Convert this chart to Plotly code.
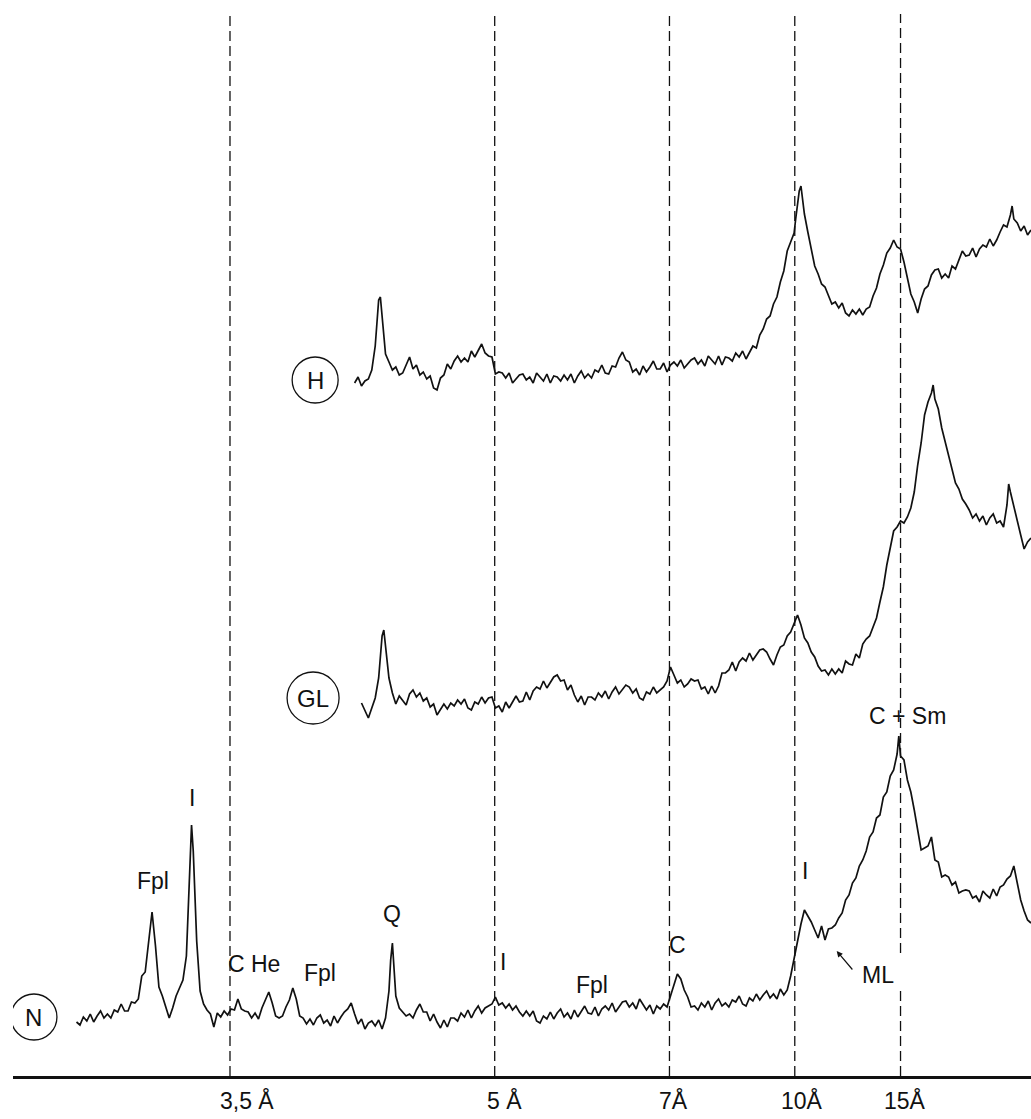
import plotly.graph_objects as go

# ---------------- data (2-theta, Cu K-alpha; intensity in arbitrary units) -------------
N_2theta = [
    29.9, 29.8, 29.7, 29.6, 29.5, 29.4, 29.3, 29.2, 29.1, 29.0,
    28.9, 28.8, 28.7, 28.6, 28.5, 28.4, 28.3, 28.2, 28.1, 28.0,
    27.9, 27.8, 27.7, 27.6, 27.5, 27.4, 27.3, 27.2, 27.1, 27.0,
    26.9, 26.8, 26.7, 26.65, 26.6, 26.55, 26.5, 26.45, 26.4, 26.3, 26.2, 26.1, 26.0,
    25.9, 25.8, 25.7, 25.6, 25.5, 25.4, 25.3, 25.2, 25.1, 25.0,
    24.9, 24.8, 24.7, 24.6, 24.5, 24.4, 24.3, 24.2, 24.1, 24.0,
    23.9, 23.8, 23.7, 23.6, 23.5, 23.4, 23.3, 23.2, 23.1, 23.0,
    22.9, 22.8, 22.7, 22.6, 22.5, 22.4, 22.3, 22.2, 22.1, 22.0,
    21.9, 21.8, 21.7, 21.6, 21.5, 21.4, 21.3, 21.2, 21.1, 21.0,
    20.9, 20.8, 20.75, 20.7, 20.65, 20.6, 20.5, 20.4, 20.3, 20.2, 20.1, 20.0,
    19.9, 19.8, 19.7, 19.6, 19.5, 19.4, 19.3, 19.2, 19.1, 19.0,
    18.9, 18.8, 18.7, 18.6, 18.5, 18.4, 18.3, 18.2, 18.1, 18.0,
    17.9, 17.8, 17.7, 17.6, 17.5, 17.4, 17.3, 17.2, 17.1, 17.0,
    16.9, 16.8, 16.7, 16.6, 16.5, 16.4, 16.3, 16.2, 16.1, 16.0,
    15.9, 15.8, 15.7, 15.6, 15.5, 15.4, 15.3, 15.2, 15.1, 15.0,
    14.9, 14.8, 14.7, 14.6, 14.5, 14.4, 14.3, 14.2, 14.1, 14.0,
    13.9, 13.8, 13.7, 13.6, 13.5, 13.4, 13.3, 13.2, 13.1, 13.0,
    12.9, 12.8, 12.7, 12.6, 12.5, 12.45, 12.4, 12.3, 12.2, 12.1, 12.0,
    11.9, 11.8, 11.7, 11.6, 11.5, 11.4, 11.3, 11.2, 11.1, 11.0,
    10.9, 10.8, 10.7, 10.6, 10.5, 10.4, 10.3, 10.2, 10.1, 10.0,
    9.9, 9.8, 9.7, 9.6, 9.5, 9.4, 9.3, 9.2, 9.1, 9.0,
    8.9, 8.8, 8.7, 8.6, 8.5, 8.4, 8.3, 8.2, 8.1, 8.0,
    7.9, 7.8, 7.7, 7.6, 7.5, 7.4, 7.3, 7.2, 7.1, 7.0,
    6.9, 6.8, 6.7, 6.6, 6.5, 6.4, 6.3, 6.2, 6.1, 6.0,
    5.95, 5.9, 5.8, 5.7, 5.6, 5.5, 5.4, 5.3, 5.2, 5.1, 5.0,
    4.9, 4.8, 4.7, 4.6, 4.5, 4.4, 4.3, 4.2, 4.1, 4.0,
    3.9, 3.8, 3.7, 3.6, 3.5, 3.4, 3.3, 3.2, 3.1, 3.0,
    2.9, 2.8, 2.7, 2.6, 2.5, 2.4, 2.3, 2.2, 2.1,
]
N_counts = [
    54, 51, 59, 55, 62, 54, 60, 65, 58, 62,
    58, 66, 64, 72, 65, 65, 74, 73, 77, 100,
    104, 135, 164, 130, 89, 80, 68, 58, 68, 80,
    88, 96, 120, 165, 205, 251, 225, 185, 135, 85, 72, 66, 62,
    49, 63, 59, 65, 61, 67, 66, 77, 67, 65,
    64, 58, 63, 57, 68, 77, 84, 73, 60, 58,
    60, 69, 76, 88, 77, 60, 58, 52, 57, 51,
    58, 61, 53, 56, 50, 60, 53, 59, 64, 67,
    73, 62, 52, 57, 47, 53, 55, 50, 56, 47,
    58, 85, 116, 133, 104, 80, 68, 64, 60, 62, 58, 66,
    72, 64, 64, 55, 62, 54, 48, 56, 49, 58,
    58, 55, 63, 59, 66, 58, 65, 70, 63, 68,
    70, 72, 79, 71, 73, 68, 72, 66, 70, 64,
    60, 65, 60, 65, 55, 53, 60, 57, 64, 57,
    63, 67, 59, 63, 57, 66, 59, 65, 70, 63,
    62, 69, 60, 67, 70, 66, 73, 64, 69, 74,
    75, 69, 73, 67, 77, 71, 66, 71, 62, 70,
    67, 72, 69, 80, 92, 98, 102, 97, 86, 79, 69,
    70, 66, 73, 69, 75, 66, 73, 77, 70, 73,
    69, 76, 74, 80, 72, 70, 78, 75, 82, 76,
    81, 85, 78, 82, 77, 87, 81, 86, 100, 118,
    135, 152, 166, 160, 154, 146, 138, 150, 136, 147,
    148, 151, 158, 163, 176, 181, 193, 198, 210, 216,
    225, 239, 244, 258, 261, 279, 284, 300, 306, 322,
    340, 320, 316, 296, 284, 266, 247, 226, 228, 230, 239,
    216, 214, 199, 201, 199, 191, 194, 183, 185, 186,
    185, 178, 180, 174, 185, 181, 178, 187, 180, 189,
    191, 197, 200, 210, 193, 176, 165, 156, 153,
]

GL_2theta = [
    21.6, 21.5, 21.4, 21.3, 21.2, 21.1, 21.05, 21.0, 20.95, 20.9,
    20.8, 20.7, 20.6, 20.5, 20.4, 20.3, 20.2, 20.1, 20.0,
    19.9, 19.8, 19.7, 19.6, 19.5, 19.4, 19.3, 19.2, 19.1, 19.0,
    18.9, 18.8, 18.7, 18.6, 18.5, 18.4, 18.3, 18.2, 18.1, 18.0,
    17.9, 17.8, 17.7, 17.6, 17.5, 17.4, 17.3, 17.2, 17.1, 17.0,
    16.9, 16.8, 16.7, 16.6, 16.5, 16.4, 16.3, 16.2, 16.1, 16.0,
    15.9, 15.8, 15.7, 15.6, 15.5, 15.4, 15.3, 15.2, 15.1, 15.0,
    14.9, 14.8, 14.7, 14.6, 14.5, 14.4, 14.3, 14.2, 14.1, 14.0,
    13.9, 13.8, 13.7, 13.6, 13.5, 13.4, 13.3, 13.2, 13.1, 13.0,
    12.9, 12.8, 12.7, 12.6, 12.5, 12.4, 12.3, 12.2, 12.1, 12.0,
    11.9, 11.8, 11.7, 11.6, 11.5, 11.4, 11.3, 11.2, 11.1, 11.0,
    10.9, 10.8, 10.7, 10.6, 10.5, 10.4, 10.3, 10.2, 10.1, 10.0,
    9.9, 9.8, 9.7, 9.6, 9.5, 9.4, 9.3, 9.2, 9.1, 9.0,
    8.95, 8.9, 8.8, 8.7, 8.6, 8.5, 8.4, 8.3, 8.2, 8.1, 8.0,
    7.9, 7.8, 7.7, 7.6, 7.5, 7.4, 7.3, 7.2, 7.1, 7.0,
    6.9, 6.8, 6.7, 6.6, 6.5, 6.4, 6.3, 6.2, 6.1, 6.0,
    5.9, 5.8, 5.7, 5.6, 5.5, 5.4, 5.3, 5.2, 5.1, 5.0,
    4.95, 4.9, 4.8, 4.7, 4.6, 4.5, 4.4, 4.3, 4.2, 4.1, 4.0,
    3.9, 3.8, 3.7, 3.6, 3.5, 3.4, 3.3, 3.2, 3.1, 3.0,
    2.9, 2.8, 2.75, 2.7, 2.6, 2.5, 2.4, 2.3, 2.2, 2.1,
]
GL_counts = [
    373, 366, 358, 368, 378, 398, 418, 440, 446, 428,
    398, 383, 372, 380, 376, 371, 382, 386, 379,
    383, 375, 378, 369, 372, 361, 366, 372, 367, 373,
    370, 376, 372, 377, 368, 366, 374, 372, 379, 373,
    378, 379, 368, 370, 364, 374, 368, 374, 380, 374,
    375, 384, 376, 385, 389, 387, 395, 388, 393, 399,
    401, 395, 396, 386, 391, 381, 374, 380, 371, 379,
    379, 376, 383, 379, 385, 377, 384, 389, 382, 387,
    391, 389, 383, 387, 378, 376, 384, 382, 389, 383,
    386, 389, 395, 409, 401, 393, 396, 389, 392, 397,
    395, 396, 387, 389, 382, 390, 383, 390, 403, 403,
    406, 414, 405, 414, 418, 415, 423, 416, 421, 426,
    427, 424, 417, 411, 421, 429, 431, 440, 444, 453,
    457, 461, 451, 438, 433, 424, 419, 410, 405, 406, 401,
    407, 402, 407, 403, 415, 412, 411, 422, 418, 432,
    437, 440, 450, 458, 474, 489, 511, 528, 545, 549,
    555, 553, 559, 568, 584, 611, 633, 661, 674, 683,
    691, 677, 667, 648, 634, 619, 608, 593, 587, 577, 572,
    566, 558, 562, 555, 560, 551, 558, 562, 553, 555,
    549, 571, 592, 584, 569, 553, 541, 527, 534, 538,
]

H_2theta = [
    21.8, 21.7, 21.6, 21.5, 21.4, 21.3, 21.2, 21.15, 21.1, 21.05,
    21.0, 20.95, 20.9, 20.8, 20.7, 20.6, 20.5, 20.4, 20.3, 20.2, 20.1, 20.0,
    19.9, 19.8, 19.7, 19.6, 19.5, 19.4, 19.3, 19.2, 19.1, 19.0,
    18.9, 18.8, 18.7, 18.6, 18.5, 18.4, 18.3, 18.2, 18.1, 18.0,
    17.9, 17.8, 17.7, 17.6, 17.5, 17.4, 17.3, 17.2, 17.1, 17.0,
    16.9, 16.8, 16.7, 16.6, 16.5, 16.4, 16.3, 16.2, 16.1, 16.0,
    15.9, 15.8, 15.7, 15.6, 15.5, 15.4, 15.3, 15.2, 15.1, 15.0,
    14.9, 14.8, 14.7, 14.6, 14.5, 14.4, 14.3, 14.2, 14.1, 14.0,
    13.9, 13.8, 13.7, 13.6, 13.5, 13.4, 13.3, 13.2, 13.1, 13.0,
    12.9, 12.8, 12.7, 12.6, 12.5, 12.4, 12.3, 12.2, 12.1, 12.0,
    11.9, 11.8, 11.7, 11.6, 11.5, 11.4, 11.3, 11.2, 11.1, 11.0,
    10.9, 10.8, 10.7, 10.6, 10.5, 10.4, 10.3, 10.2, 10.1, 10.0,
    9.9, 9.8, 9.7, 9.6, 9.5, 9.4, 9.3, 9.2, 9.1, 9.0,
    8.95, 8.9, 8.85, 8.8, 8.75, 8.7, 8.6, 8.5, 8.4, 8.3, 8.2, 8.1, 8.0,
    7.9, 7.8, 7.7, 7.6, 7.5, 7.4, 7.3, 7.2, 7.1, 7.0,
    6.9, 6.8, 6.7, 6.6, 6.5, 6.4, 6.3, 6.2, 6.1, 6.0,
    5.9, 5.8, 5.7, 5.6, 5.5, 5.4, 5.3, 5.2, 5.1, 5.0,
    4.9, 4.8, 4.7, 4.6, 4.5, 4.4, 4.3, 4.2, 4.1, 4.0,
    3.9, 3.8, 3.7, 3.6, 3.5, 3.4, 3.3, 3.2, 3.1, 3.0,
    2.9, 2.8, 2.7, 2.65, 2.6, 2.5, 2.4, 2.3, 2.2, 2.1,
]
H_counts = [
    693, 699, 690, 695, 697, 706, 730, 756, 776, 779,
    760, 738, 722, 714, 706, 709, 701, 703, 711, 719, 707, 711,
    701, 704, 697, 700, 688, 686, 698, 701, 712, 707,
    715, 720, 714, 718, 714, 725, 719, 726, 732, 723,
    720, 719, 702, 704, 703, 698, 703, 693, 697, 701,
    702, 696, 699, 693, 703, 699, 695, 702, 693, 700,
    699, 695, 701, 696, 702, 693, 700, 705, 698, 702,
    698, 706, 704, 711, 703, 702, 710, 709, 718, 724,
    716, 714, 704, 707, 701, 710, 704, 709, 715, 707,
    707, 713, 704, 711, 714, 710, 716, 708, 712, 716,
    718, 712, 716, 710, 720, 716, 712, 720, 711, 719,
    718, 715, 723, 719, 725, 717, 724, 730, 728, 741,
    747, 757, 760, 772, 779, 794, 805, 825, 834, 843,
    858, 874, 885, 890, 878, 862, 844, 828, 810, 802, 792, 789, 780,
    772, 774, 768, 773, 763, 760, 766, 762, 767, 761,
    767, 769, 780, 788, 802, 811, 823, 828, 836, 829,
    827, 814, 799, 782, 774, 763, 777, 787, 790, 801,
    806, 807, 798, 802, 798, 810, 807, 816, 825, 820,
    821, 828, 819, 827, 831, 829, 837, 830, 836, 844,
    851, 849, 861, 870, 857, 853, 845, 850, 841, 846,
]

# reference d-spacing lines (position in 2-theta) and their labels
ref_lines_2theta = [25.43, 17.72, 12.63, 8.98, 5.90]
ref_labels = ["3,5 Å", "5 Å", "7Å", "10Å", "15Å"]
ref_label_shift = [17, 10, 4, 7, 4]

# sample names (circled)
samples = ["N", "GL", "H"]
sample_pos = [(31.14, 59), (23.01, 378), (22.95, 696)]
sample_radius = [23, 26, 23]

# peak labels: (text, 2theta, height)
peak_labels = [
    ("Fpl", 27.67, 195), ("I", 26.54, 278), ("C He", 24.73, 112),
    ("Fpl", 22.82, 103), ("Q", 20.71, 162), ("I", 17.48, 114),
    ("Fpl", 14.89, 91), ("C", 12.41, 131), ("I", 8.68, 205),
    ("ML", 6.56, 101), ("C + Sm", 5.69, 360),
]

FONT = "Liberation Sans, Arial, Helvetica, sans-serif"
X_RANGE = [31.75, 2.10]
Y_RANGE = [0, 1076]

fig = go.Figure()
for xs, ys in [(N_2theta, N_counts), (GL_2theta, GL_counts), (H_2theta, H_counts)]:
    fig.add_trace(go.Scatter(x=xs, y=ys, mode="lines",
                             line=dict(color="#111111", width=1.7),
                             showlegend=False, hoverinfo="skip"))

shapes = []
for i, xv in enumerate(ref_lines_2theta):
    if i == 4:
        segs = [(0, 88), (123, 1062)]
    else:
        segs = [(0, 1062)]
    for y0, y1 in segs:
        shapes.append(dict(type="line", xref="x", yref="y", x0=xv, x1=xv, y0=y0, y1=y1,
                           line=dict(color="#111111", width=1.3, dash="10px,5px")))

for (xv, yv), r in zip(sample_pos, sample_radius):
    shapes.append(dict(type="circle", xref="x", yref="y", xsizemode="pixel", ysizemode="pixel",
                       xanchor=xv, yanchor=yv, x0=-r, x1=r, y0=-r, y1=r,
                       line=dict(color="#111111", width=1.3)))

annotations = []
for name, (xv, yv) in zip(samples, sample_pos):
    annotations.append(dict(x=xv, y=yv, xref="x", yref="y", text=name, showarrow=False,
                            font=dict(family=FONT, size=24, color="#111111"),
                            xanchor="center", yanchor="middle"))
for txt, xv, yv in peak_labels:
    annotations.append(dict(x=xv, y=yv, xref="x", yref="y", text=txt, showarrow=False,
                            font=dict(family=FONT, size=23, color="#111111"),
                            xanchor="center", yanchor="middle"))
for xv, lab, sh in zip(ref_lines_2theta, ref_labels, ref_label_shift):
    annotations.append(dict(x=xv, y=-24 / 1076, xref="x", yref="paper", text=lab,
                            showarrow=False, xshift=sh,
                            font=dict(family=FONT, size=23, color="#111111"),
                            xanchor="center", yanchor="middle"))
# arrow pointing at the mixed-layer (ML) shoulder
annotations.append(dict(x=7.76, y=125, xref="x", yref="y", text="", showarrow=True,
                        ax=17, ay=20, arrowhead=2, arrowsize=1, arrowwidth=1.2,
                        arrowcolor="#111111"))

fig.update_layout(
    width=1031, height=1119,
    margin=dict(l=13, r=0, t=0, b=43),
    paper_bgcolor="white", plot_bgcolor="white",
    xaxis=dict(range=X_RANGE, showline=True, linewidth=3, linecolor="#111111",
               showticklabels=False, ticks="", showgrid=False, zeroline=False),
    yaxis=dict(range=Y_RANGE, visible=False, showgrid=False, zeroline=False),
    shapes=shapes, annotations=annotations,
)

fig.write_html(
    "out.html",
    config={"displayModeBar": False},
    post_script="document.body.style.margin='0';document.body.style.overflow='hidden';",
)
